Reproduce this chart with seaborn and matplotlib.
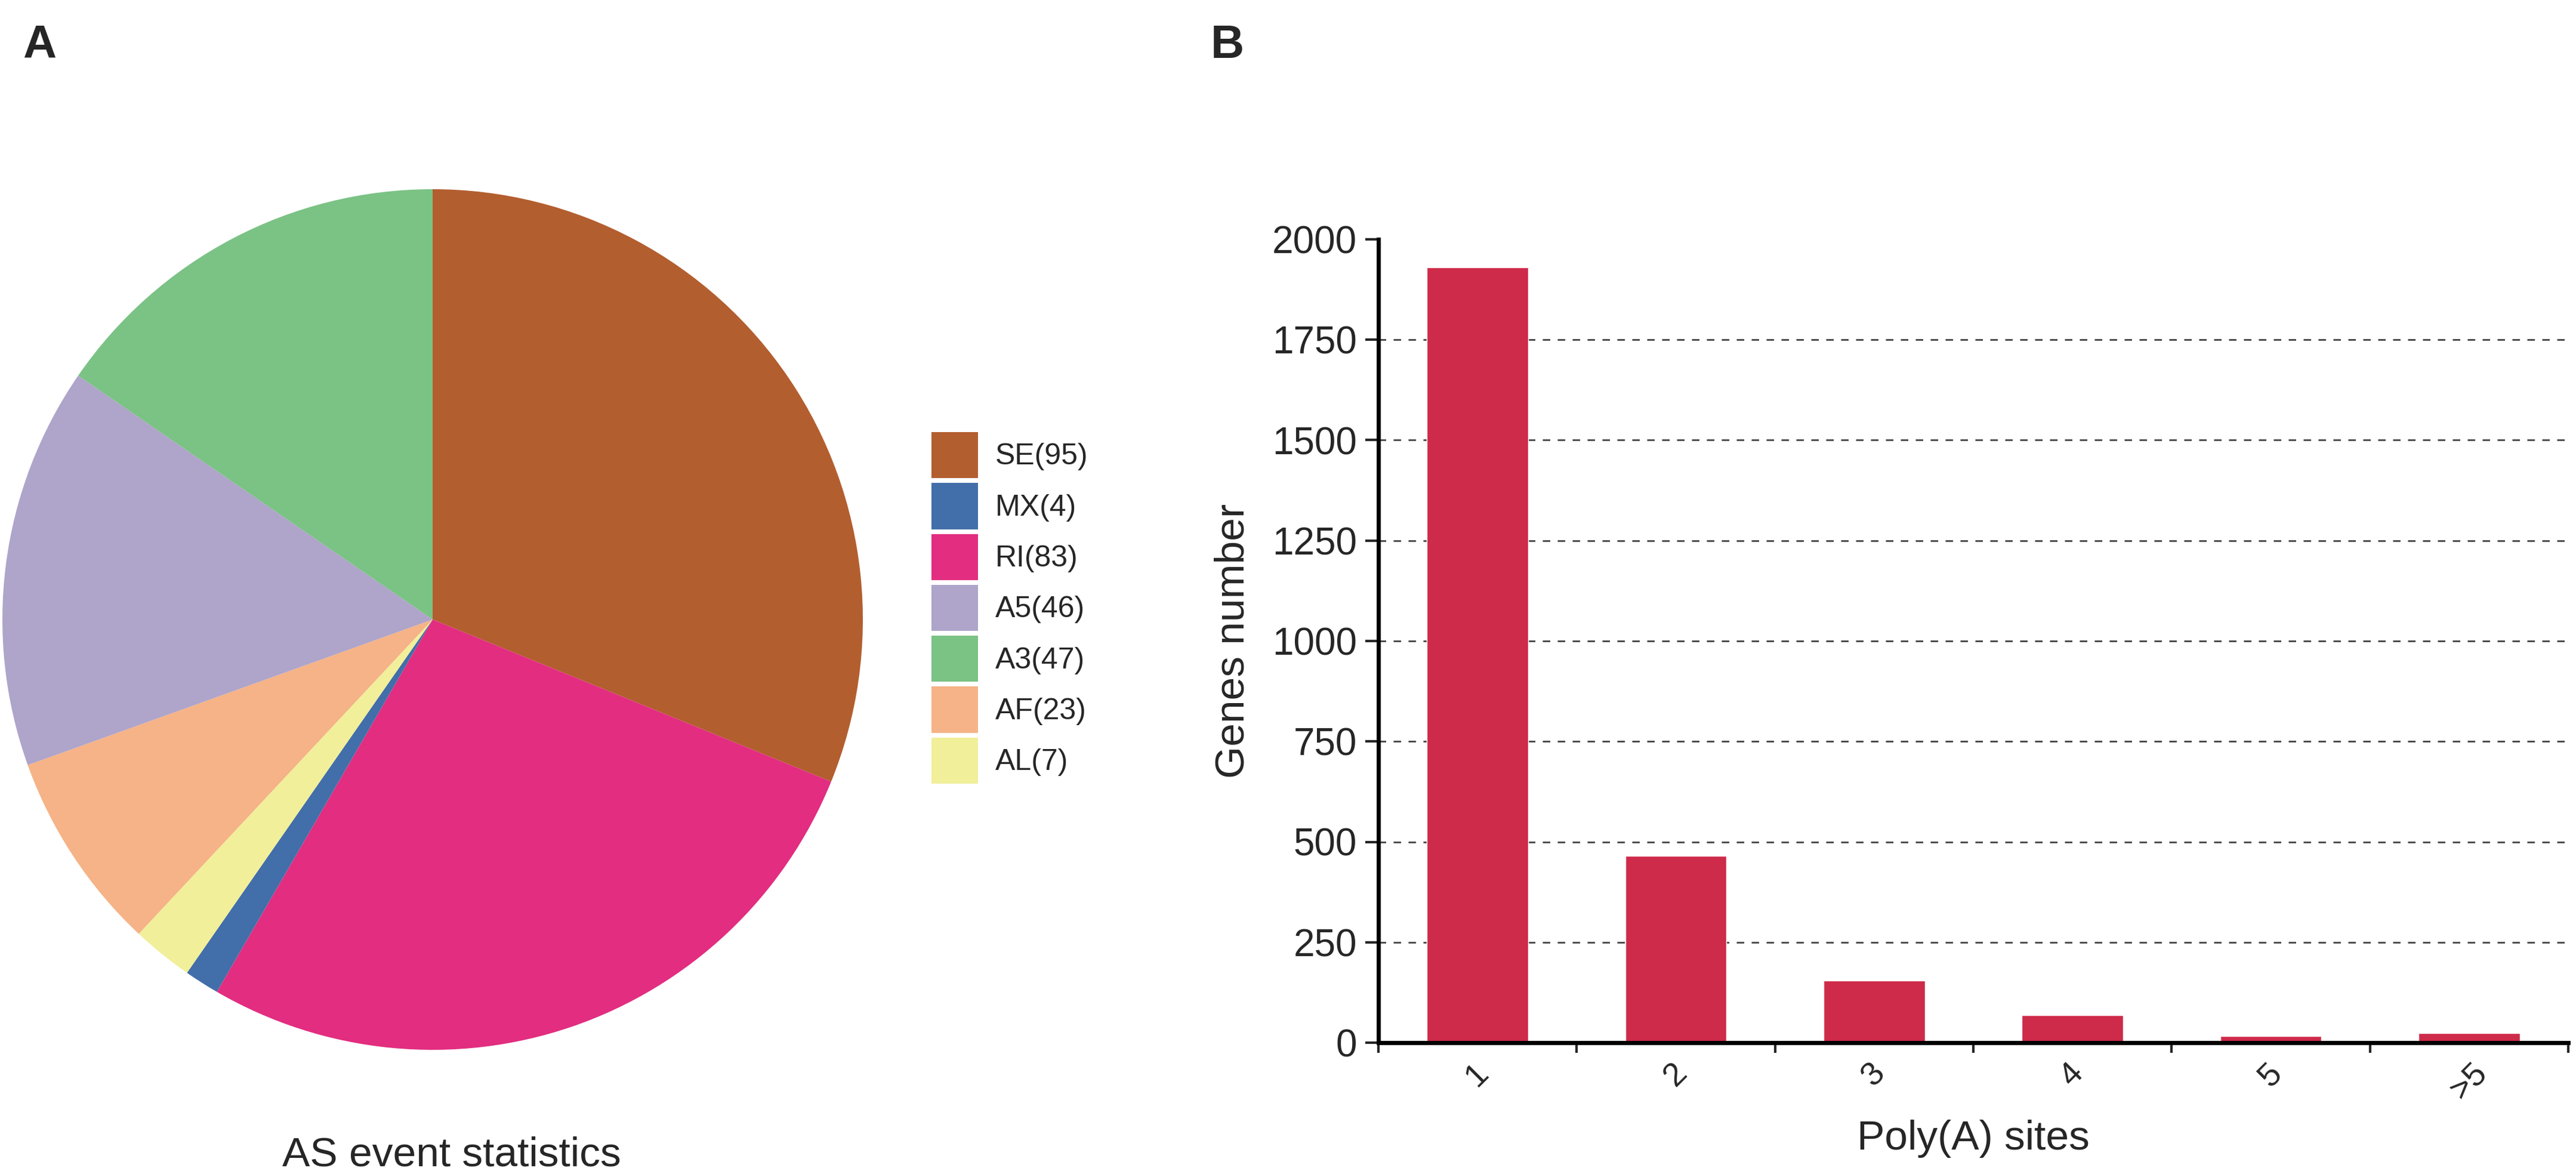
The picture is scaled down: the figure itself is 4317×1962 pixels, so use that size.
import numpy as np
import pandas as pd
import matplotlib
matplotlib.use("Agg")
import matplotlib.pyplot as plt
from matplotlib.ticker import FixedLocator
import seaborn as sns

# Panel A: AS events (legend order)
as_events = ["SE", "MX", "RI", "A5", "A3", "AF", "AL"]
as_counts = [95, 4, 83, 46, 47, 23, 7]
as_colors = ["#B35E2F", "#426EA9", "#E22D80", "#AFA4CA", "#7BC285", "#F5B387", "#F1EF9A"]
# order of the slices going clockwise from 12 o'clock
pie_order = ["SE", "RI", "MX", "AL", "AF", "A5", "A3"]

# Panel B: poly(A) sites per gene
polya_sites = ["1", "2", "3", "4", "5", ">5"]
genes_number = [1930, 465, 155, 68, 16, 24]
bar_color = "#CE2A49"

sns.set_style("white")
plt.rcParams["font.family"] = ["Liberation Sans", "DejaVu Sans"]

W, H = 4317, 1962
fig = plt.figure(figsize=(W / 100, H / 100), dpi=100)

# ---- A: pie ----
cx, cy, r = 725, 1038, 721
ax_pie = fig.add_axes([(cx - r) / W, (H - cy - r) / H, 2 * r / W, 2 * r / H])
df_as = pd.DataFrame({"event": as_events, "count": as_counts, "color": as_colors}).set_index("event")
df_pie = df_as.loc[pie_order]
wedges, _ = ax_pie.pie(df_pie["count"], colors=df_pie["color"], startangle=90,
                       counterclock=False, wedgeprops={"linewidth": 0})
ax_pie.set_xlim(-1, 1)
ax_pie.set_ylim(-1, 1)
ax_pie.set_aspect("equal")

wmap = dict(zip(pie_order, wedges))
handles = [wmap[e] for e in as_events]
labels = ["%s(%d)" % (e, c) for e, c in zip(as_events, as_counts)]
fig.legend(handles, labels, loc="upper left", bbox_to_anchor=(1561 / W, 1 - 724 / H),
           frameon=False, fontsize=36, handlelength=1.56, handleheight=2.0,
           labelspacing=0.16, handletextpad=0.58, borderpad=0, borderaxespad=0)

fig.text(757 / W, 1 - 1954 / H, "AS event statistics", ha="center", va="baseline", fontsize=50)

# ---- B: bars ----
ax = fig.add_axes([2310 / W, 1 - 1747 / H, (4304 - 2310) / W, (1747 - 401) / H])
sns.barplot(x=polya_sites, y=genes_number, order=polya_sites, color=bar_color,
            saturation=1, width=0.51, ax=ax)
ax.set_xlim(-0.5, len(polya_sites) - 0.5)
ax.set_ylim(0, 2000)
ax.set_yticks(np.arange(0, 2001, 250))
ax.set_axisbelow(True)
ax.yaxis.grid(True, linestyle=(0, (4.5, 4.5)), color="#444444", linewidth=2)
ax.get_ygridlines()[-1].set_visible(False)
ax.get_ygridlines()[0].set_visible(False)

for s in ["top", "right"]:
    ax.spines[s].set_visible(False)
for s in ["left", "bottom"]:
    ax.spines[s].set_linewidth(5)
    ax.spines[s].set_color("black")

ax.tick_params(axis="y", which="major", left=True, length=16, width=3, pad=10, labelsize=46)
ax.xaxis.set_minor_locator(FixedLocator(np.arange(-0.5, len(polya_sites), 1.0)))
ax.tick_params(axis="x", which="major", bottom=False, length=0, pad=18, labelsize=40)
ax.tick_params(axis="x", which="minor", bottom=True, length=12, width=3)
for t in ax.get_xticklabels():
    t.set_rotation(45)
    t.set_ha("center")

ax.set_ylabel("Genes number", fontsize=50, labelpad=24)
ax.set_xlabel("Poly(A) sites", fontsize=50, labelpad=16)

fig.text(38 / W, 1 - 97 / H, "A", fontsize=56, fontweight="bold", va="baseline")
fig.text(2029 / W, 1 - 97 / H, "B", fontsize=56, fontweight="bold", va="baseline")

fig.savefig("out.png", dpi=100, facecolor="white")
